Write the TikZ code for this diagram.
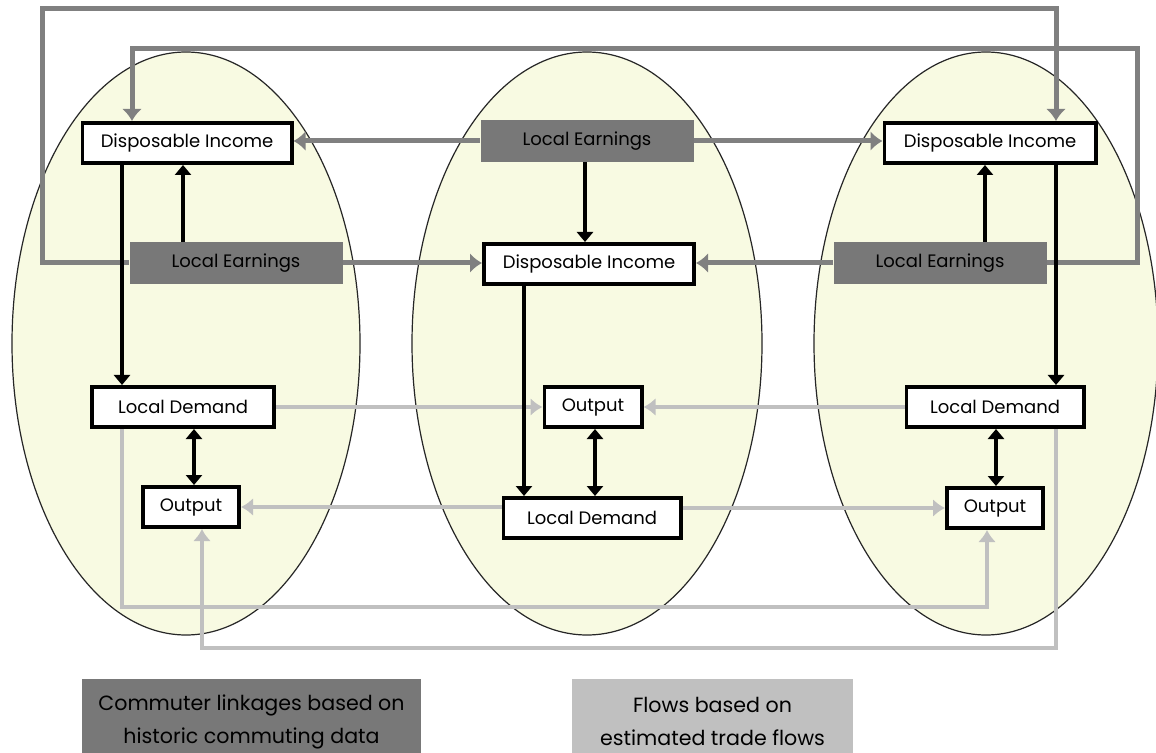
\documentclass[tikz,border=0pt]{standalone}
\usepackage{fontspec}
\setmainfont{Poppins}
\usetikzlibrary{arrows.meta}
\definecolor{ellfill}{RGB}{248,250,226}
\definecolor{dkline}{RGB}{128,128,128}
\definecolor{dkfill}{RGB}{120,120,120}
\definecolor{ltline}{RGB}{192,192,192}
\pgfdeclarelayer{regions}
\pgfdeclarelayer{flows}
\pgfsetlayers{regions,flows,main}
\begin{document}
\begin{tikzpicture}[x=0.5pt,y=-0.5pt,
  ell/.style={draw=black!85, line width=0.6pt, fill=ellfill},
  wbox/.style={draw=black, line width=1.8pt, fill=white, inner sep=0pt, minimum height=20.2pt, font=\fontsize{9}{11}\selectfont},
  gbox/.style={fill=dkfill, inner sep=0pt, minimum height=21pt, minimum width=106.5pt, font=\fontsize{9}{11}\selectfont},
  blk/.style={draw=black, line width=2pt, -{Triangle[width=8pt,length=5pt]}},
  blkb/.style={draw=black, line width=2pt, {Triangle[width=8pt,length=5pt]}-{Triangle[width=8pt,length=5pt]}},
  dk/.style={draw=dkline, line width=2.5pt, -{Latex[width=10pt,length=6pt]}},
  lt/.style={draw=ltline, line width=2pt, -{Latex[width=9pt,length=6pt]}},
  legbox/.style={inner sep=0pt, align=center, minimum height=42.5pt, font=\fontsize{10.3}{16.5}\selectfont}
]
\useasboundingbox (0,0) rectangle (1156,753);

% regions
\begin{pgfonlayer}{regions}
\fill[white] (0,0) rectangle (1156,753);
\draw[ell] (186,343.5) ellipse [x radius=87pt, y radius=145.75pt];
\draw[ell] (587,343.5) ellipse [x radius=87.5pt, y radius=145.75pt];
\draw[ell] (986,343.5) ellipse [x radius=86pt, y radius=145.75pt];
\end{pgfonlayer}

% nodes
\node[wbox, minimum width=104.7pt] (DIL) at (187,143) {Disposable Income};
\node[gbox] (LEL) at (236,263) {Local Earnings};
\node[wbox, minimum width=91.2pt] (LDL) at (183,407) {Local Demand};
\node[wbox, minimum width=48.2pt] (OL) at (191,507) {Output};

\node[gbox] (LEM) at (587,141) {Local Earnings};
\node[wbox, minimum width=105.2pt] (DIM) at (589,264) {Disposable Income};
\node[wbox, minimum width=48.7pt] (OM) at (593,407) {Output};
\node[wbox, minimum width=88.7pt] (LDM) at (592,518) {Local Demand};

\node[wbox, minimum width=105.7pt] (DIR) at (990,143) {Disposable Income};
\node[gbox] (LER) at (940,263) {Local Earnings};
\node[wbox, minimum width=88.7pt] (LDR) at (995,407) {Local Demand};
\node[wbox, minimum width=48.2pt] (OR) at (995,508) {Output};

% helper coordinates
\coordinate (xa) at (122,0);
\coordinate (xb) at (183,0);
\coordinate (xc) at (194,0);
\coordinate (xd) at (585,0);
\coordinate (xe) at (524,0);
\coordinate (xf) at (595,0);
\coordinate (xg) at (985,0);
\coordinate (xh) at (1056,0);
\coordinate (xi) at (996,0);
\coordinate (xk) at (132,0);
\coordinate (cA) at (42,9);
\coordinate (cB) at (1137,49);
\coordinate (cJ) at (987,607);
\coordinate (cK) at (202,648);

\begin{pgfonlayer}{flows}
% trade flows (light grey)
\draw[lt] (LDL.east) -- (LDL.east -| OM.west);
\draw[lt] (LDR.west) -- (LDR.west -| OM.east);
\draw[lt] (OL.east -| LDM.west) -- (OL.east);
\draw[lt] (OR.west -| LDM.east) -- (OR.west);
\draw[lt] (LDL.south -| xa) |- (cJ) -- (OR.south -| cJ);
\draw[lt] (LDR.south -| xh) |- (cK) -- (OL.south -| cK);

% commuter linkages (dark grey)
\draw[dk] (LEL.west) -| (cA) -| (DIR.north -| xh);
\draw[dk] (LER.east) -| (cB) -| (DIL.north -| xk);
\draw[dk] (LEM.west) -- (LEM.west -| DIL.east);
\draw[dk] (LEM.east) -- (LEM.east -| DIR.west);
\draw[dk] (LEL.east) -- (LEL.east -| DIM.west);
\draw[dk] (LER.west) -- (LER.west -| DIM.east);
\end{pgfonlayer}

% local links (black)
\draw[blk] (DIL.south -| xa) -- (LDL.north -| xa);
\draw[blk] (LEL.north -| xb) -- (DIL.south -| xb);
\draw[blkb] (LDL.south -| xc) -- (OL.north -| xc);
\draw[blk] (LEM.south -| xd) -- (DIM.north -| xd);
\draw[blk] (DIM.south -| xe) -- (LDM.north -| xe);
\draw[blkb] (OM.south -| xf) -- (LDM.north -| xf);
\draw[blk] (LER.north -| xg) -- (DIR.south -| xg);
\draw[blk] (DIR.south -| xh) -- (LDR.north -| xh);
\draw[blkb] (LDR.south -| xi) -- (OR.north -| xi);

% legend
\node[legbox, fill=dkfill, minimum width=169.5pt] (LG1) at (251.5,721.5) {Commuter linkages based on\\historic commuting data};
\node[legbox, fill=ltline, minimum width=140.5pt] (LG2) at (712.5,721.5) {Flows based on\\estimated trade flows};
\end{tikzpicture}
\end{document}
